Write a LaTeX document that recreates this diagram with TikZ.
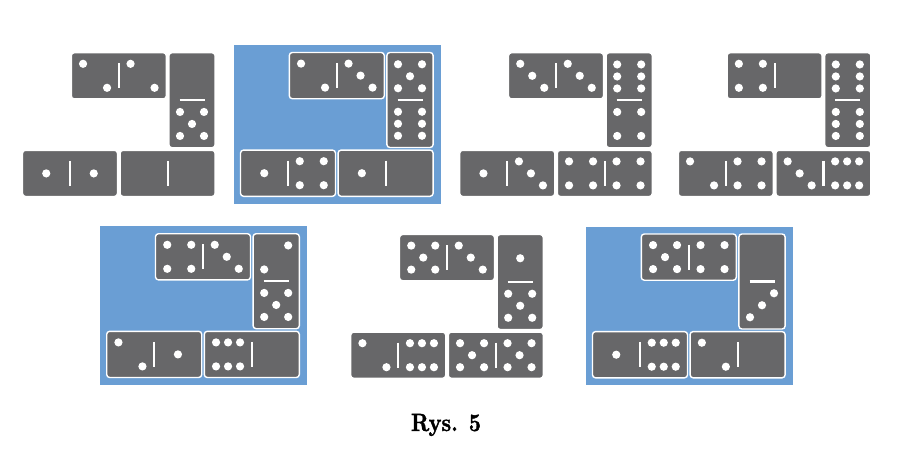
\documentclass[tikz,border=0pt]{standalone}
\usepackage{fontspec}
\newfontfamily\capfont{lmroman10-bold}[Extension=.otf, FakeBold=1.6]
\definecolor{tilegray}{RGB}{103,103,105}
\definecolor{bgblue}{RGB}{106,158,212}
\tikzset{
  tile/.style={fill=tilegray, draw=white, line width=1.4pt, rounded corners=3pt},
  pip/.style={fill=white},
  divider/.style={draw=white, line width=2.2pt},
  panel/.style={fill=bgblue},
}
\def\One{0/0}
\def\TwoA{-1/-1,1/1}
\def\TwoB{1/-1,-1/1}
\def\ThreeA{-1/-1,0/0,1/1}
\def\ThreeB{1/-1,0/0,-1/1}
\def\Four{-1/-1,1/-1,-1/1,1/1}
\def\Five{-1/-1,1/-1,0/0,-1/1,1/1}
\def\SixH{-1/-1,0/-1,1/-1,-1/1,0/1,1/1}
\def\SixV{-1/-1,1/-1,-1/0,1/0,-1/1,1/1}
\newcommand\pips[3]{\edef\piplist{#3}\ifx\piplist\empty\else
  \foreach \a/\b in \piplist {\fill[pip] ({#1+12*(\a)},{#2+12*(\b)}) circle (4.1);}\fi}
\newcommand\tileH[4]{%
  \draw[tile] (#1,#2) rectangle ++(95,46.2);
  \draw[divider] ({#1+47.5},{#2+10.6}) -- ({#1+47.5},{#2+35.6});
  \pips{#1+23.75}{#2+23.1}{#3}
  \pips{#1+71.25}{#2+23.1}{#4}}
\newcommand\tileV[4]{%
  \draw[tile] (#1,#2) rectangle ++(46.2,95);
  \draw[divider] ({#1+10.6},{#2+47.5}) -- ({#1+35.6},{#2+47.5});
  \pips{#1+23.1}{#2+23.75}{#3}
  \pips{#1+23.1}{#2+71.25}{#4}}
\begin{document}
\begin{tikzpicture}[x=1pt,y=-1pt]
\useasboundingbox (0,0) rectangle (900,461);
% group 1
\begin{scope}[shift={(22.5,52.7)}]
  \tileH{48.8}{0}{\TwoA}{\TwoA}
  \tileV{146.4}{0}{}{\Five}
  \tileH{0}{97.6}{\One}{\One}
  \tileH{97.6}{97.6}{}{}
\end{scope}
% group 2
\begin{scope}[shift={(240.5,52.5)}]
  \fill[panel] (-7,-7.5) rectangle (200.5,151);
  \tileH{48.8}{0}{\TwoA}{\ThreeA}
  \tileV{146.4}{0}{\Five}{\SixV}
  \tileH{0}{97.6}{\One}{\Four}
  \tileH{97.6}{97.6}{\One}{}
\end{scope}
% group 3
\begin{scope}[shift={(459.7,52.7)}]
  \tileH{48.8}{0}{\ThreeA}{\ThreeA}
  \tileV{146.4}{0}{\SixV}{\Four}
  \tileH{0}{97.6}{\One}{\ThreeA}
  \tileH{97.6}{97.6}{\Four}{\Four}
\end{scope}
% group 4
\begin{scope}[shift={(678.3,52.7)}]
  \tileH{48.8}{0}{\Four}{}
  \tileV{146.4}{0}{\SixV}{\SixV}
  \tileH{0}{97.6}{\TwoA}{\Four}
  \tileH{97.6}{97.6}{\ThreeA}{\SixH}
\end{scope}
% group 5
\begin{scope}[shift={(106.7,233.7)}]
  \fill[panel] (-7,-7.5) rectangle (200.5,151);
  \tileH{48.8}{0}{\Four}{\ThreeA}
  \tileV{146.4}{0}{\TwoB}{\Five}
  \tileH{0}{97.6}{\TwoA}{\One}
  \tileH{97.6}{97.6}{\SixH}{}
\end{scope}
% group 6
\begin{scope}[shift={(350.7,234.5)}]
  \tileH{48.8}{0}{\Five}{\ThreeA}
  \tileV{146.4}{0}{\One}{\Five}
  \tileH{0}{97.6}{\TwoA}{\SixH}
  \tileH{97.6}{97.6}{\Five}{\Five}
\end{scope}
% group 7
\begin{scope}[shift={(592.5,234)}]
  \fill[panel] (-7,-7.5) rectangle (200.5,151);
  \tileH{48.8}{0}{\Five}{\Four}
  \tileV{146.4}{0}{}{\ThreeB}
  \tileH{0}{97.6}{\One}{\SixH}
  \tileH{97.6}{97.6}{\TwoA}{}
\end{scope}
\node[font=\capfont\fontsize{25}{30}\selectfont, anchor=base, xscale=0.85] (caption) at (446,431) {Rys. 5};
\end{tikzpicture}
\end{document}
